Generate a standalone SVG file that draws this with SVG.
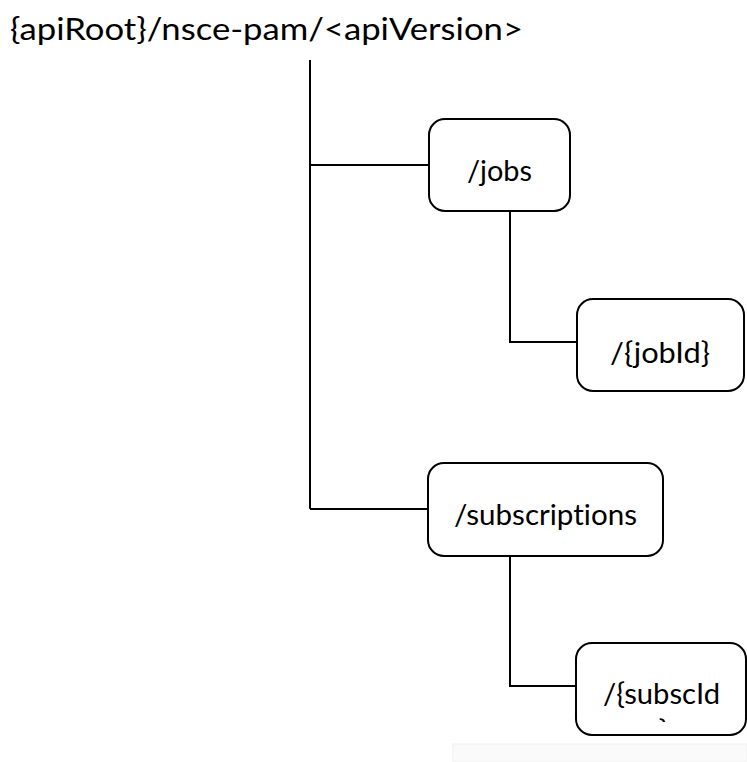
<svg xmlns="http://www.w3.org/2000/svg" width="747" height="762" viewBox="0 0 747 762">
<defs>
<style>
.box{fill:#fff;stroke:#000;stroke-width:2}
.ln{fill:none;stroke:#000;stroke-width:2}
.t{font-family:Lato,"Open Sans","Liberation Sans",sans-serif;font-size:28px;fill:#000;font-variant-ligatures:none}
</style>
<clipPath id="cl"><rect x="576" y="643" width="171" height="79"/></clipPath>
</defs>
<rect x="0" y="0" width="747" height="762" fill="#fff"/>
<rect x="453" y="744" width="294" height="18" fill="#fafafa" stroke="#f0f0f0" stroke-width="1"/>
<text x="10" y="40" class="t" style="font-size:31px" textLength="513" lengthAdjust="spacingAndGlyphs">{apiRoot}/nsce-pam/&lt;apiVersion&gt;</text>
<g id="connectors">
<path class="ln" d="M310,60 V509"/>
<path class="ln" d="M310,165 H429"/>
<path class="ln" d="M310,509 H428"/>
<path class="ln" d="M510,211 V342 H577"/>
<path class="ln" d="M510,556 V686 H576"/>
</g>
<g id="jobs">
<rect class="box" x="429" y="119" width="141" height="92" rx="16"/>
<text class="t" x="467" y="181" textLength="65" lengthAdjust="spacingAndGlyphs">/jobs</text>
</g>
<g id="jobId">
<rect class="box" x="577" y="299" width="167" height="92" rx="16"/>
<text class="t" x="610" y="363" textLength="100" lengthAdjust="spacingAndGlyphs">/{jobId}</text>
</g>
<g id="subscriptions">
<rect class="box" x="428" y="463" width="235" height="93" rx="16"/>
<text class="t" x="454" y="525" textLength="183" lengthAdjust="spacingAndGlyphs">/subscriptions</text>
</g>
<g id="subscId">
<rect class="box" x="576" y="643" width="170" height="92" rx="16"/>
<text class="t" x="603" y="704" textLength="117" lengthAdjust="spacingAndGlyphs">/{subscId</text>
<text class="t" x="663" y="741" text-anchor="middle" clip-path="url(#cl)">}</text>
</g>
</svg>
